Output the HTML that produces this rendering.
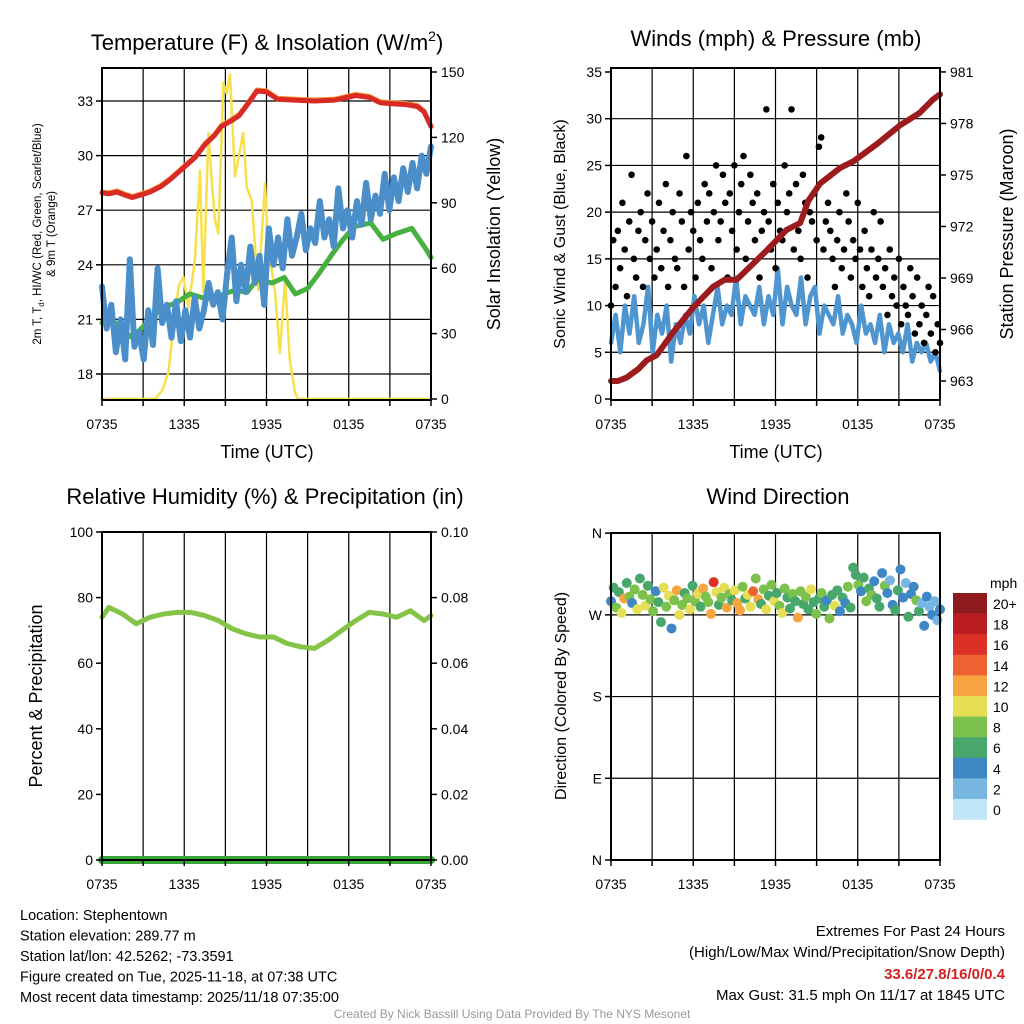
<!DOCTYPE html>
<html><head><meta charset="utf-8"><style>
html,body{margin:0;padding:0;background:#fff;}
svg{display:block;font-family:"Liberation Sans",Arial,sans-serif;}
</style></head><body>
<svg id="c" width="1024" height="1024" viewBox="0 0 1024 1024"></svg>
<script>
// ---------- data ----------
const xTicks = ["0735","1335","1935","0135","0735"];
const p1LeftTicks = [18,21,24,27,30,33];
const p1RightTicks = [0,30,60,90,120,150];
const redTempT = [0,0.5,1.1,1.6,2.2,2.9,3.5,4.3,5.0,6.05,6.8,7.5,8.2,8.7,9.4,10.0,10.7,11.3,12.0,12.8,14.0,15.5,17.0,18.5,19.5,20.3,21.2,22.2,23.0,23.5,24];
const redTempV = [27.95,27.9,28.0,27.85,27.7,27.85,28.0,28.3,28.7,29.4,29.9,30.6,31.1,31.6,31.9,32.2,32.9,33.55,33.5,33.1,33.05,33.0,33.05,33.3,33.2,32.9,32.85,32.8,32.7,32.4,31.6];
const greenT = [0,0.5,1.3,2.2,3.0,3.8,4.6,5.4,6.4,7.3,8.2,8.9,9.7,10.6,11.3,12.4,13.3,14.1,15.0,15.8,16.8,17.6,18.4,19.6,20.5,21.4,22.6,23.6,24];
const greenV = [20.8,21.2,20.5,20.0,20.6,21.3,21.7,21.9,22.4,22.2,22.1,22.4,22.6,22.5,23.2,23.0,23.3,22.4,22.7,23.5,24.6,25.4,26.1,26.3,25.4,25.7,26.0,24.9,24.4];
const blueTempV = [22.8,20.5,21.8,19.2,21.0,18.8,24.3,19.5,20.3,18.8,21.5,19.6,23.8,20.8,21.8,20.0,22.0,19.8,21.5,20.0,22.2,20.5,21.5,23.0,21.8,22.5,21.0,23.5,25.5,22.0,24.0,22.5,25.0,23.0,24.5,21.8,26.0,24.0,25.5,23.8,26.5,24.5,25.5,26.8,24.8,26.0,25.2,27.5,25.5,26.5,25.0,28.2,26.0,27.0,25.5,27.5,26.2,28.5,26.5,27.8,26.8,29.0,27.0,28.8,27.5,29.3,28.0,29.6,28.2,30.0,29.0,30.5];
const solarT = [0,3.87,4.4,4.84,5.33,5.6,5.93,6.3,6.78,7.15,7.39,7.76,8.0,8.24,8.49,8.85,9.1,9.34,9.7,10.3,10.56,10.92,11.4,11.89,12.13,12.62,12.98,13.35,13.7,14.08,14.3,24];
const solarV = [0,0,4,12,39,52,56,42,64,105,49,122,100,82,76,145,140,149,102,122,97,91,50,99,70,49,21,55,18,3,0,0];
const p2LeftTicks = [0,5,10,15,20,25,30,35];
const p2RightTicks = [963,966,969,972,975,978,981];
const pressT = [0,0.5,1.14,2.0,2.6,3.33,4.5,6.0,7.46,8.3,9.17,10.2,11.36,12.8,13.8,14.4,15.25,16.7,17.7,19.4,21.1,22.5,23.5,24];
const pressV = [963.0,963.0,963.2,963.7,964.2,964.5,965.8,967.3,968.5,968.9,968.9,969.7,970.6,971.8,972.2,973.5,974.5,975.4,975.8,976.8,977.9,978.6,979.4,979.7];
const windV = [6,9,5,10,7,11,6,8,12,5,9,7,10,4,8,6,9,7,11,8,10,6,9,12,8,10,9,13,8,11,10,9,12,8,11,9,14,8,12,10,9,13,8,11,12,7,10,9,8,11,7,9,8,6,10,7,8,6,9,5,8,6,7,5,8,4,6,5,6,4,5,3];
const gustV = [10,17,12,18,14,21,16,11,19,24,15,13,18,20,12,17,22,15,19,13,16,21,14,18,23,12,17,20,15,14,22,19,12,26,16,20,18,13,21,17,15,23,19,22,14,20,25,17,19,24,21,13,22,18,25,16,20,23,26,15,19,24,21,17,22,13,18,20,31,19,16,23,14,21,18,17,25,20,22,31,16,23,18,15,24,21,13,20,19,22,17,27,28,16,19,21,18,15,12,17,20,14,16,22,19,13,17,15,21,16,12,18,14,11,16,20,13,15,19,12,14,9,16,11,13,10,15,8,12,10,9,14,11,7,13,8,10,6,9,12,7,11,5,8,6];
const p3LeftTicks = [0,20,40,60,80,100];
const p3RightTicks = ["0.00","0.02","0.04","0.06","0.08","0.10"];
const rhT = [0,0.5,1.5,2.5,3.5,4.5,5.5,6.5,7.5,8.5,9.5,10.5,11.5,12.5,13.5,14.5,15.5,16.5,17.5,18.5,19.5,20.5,21.5,22.5,23.5,24];
const rhV = [74,77,75,72,74,75,75.5,75.5,74.5,73,70.5,69,68,68,66,65,64.5,67,70,73,75.5,75,74,76,73,74.5];
const dirLabels = ["N","W","S","E","N"];
const dirTickDeg = [360,270,180,90,0];
const dirV = [285,300,278,295,272,288,305,290,283,298,276,310,292,280,302,287,274,296,284,262,300,279,291,255,286,297,270,281,294,288,276,302,285,293,279,299,290,284,271,306,295,281,289,300,278,293,286,297,283,275,301,288,292,279,296,310,287,282,298,276,291,303,285,294,280,272,299,289,277,293,285,267,296,282,290,276,298,284,271,288,294,279,286,266,292,280,297,274,289,283,301,278,322,314,303,296,311,285,299,292,307,288,279,316,302,294,308,281,275,297,320,289,305,268,293,301,286,274,283,258,290,279,270,285,264,276];
const spdV = [4,6,8,7,10,12,6,8,5,9,11,7,8,10,6,9,8,4,6,7,10,8,11,5,9,12,10,8,6,9,11,7,8,10,6,12,9,8,13,16,10,6,8,11,12,9,7,10,13,12,8,6,10,11,14,9,12,6,8,10,7,9,11,6,8,10,9,6,7,8,6,12,9,7,8,6,10,7,8,6,9,7,5,8,6,10,7,4,6,5,8,6,7,6,8,5,7,9,6,8,4,7,6,4,8,5,3,4,6,7,4,5,3,6,4,4,8,6,3,4,5,2,4,3,2,4];
const cbLabels = ["20+","18","16","14","12","10","8","6","4","2","0"];
const cbColors = ["#8e1a1d","#b91c22","#dc3027","#ee6231","#f6a540","#e6df55","#7cc14c","#48a76b","#3f86c4","#78b6e2","#bfe5f7"];

// ---------- helpers ----------
const NS="http://www.w3.org/2000/svg";
const svg=document.getElementById('c');
function mk(tag,attrs,parent){const e=document.createElementNS(NS,tag);for(const k in attrs)e.setAttribute(k,attrs[k]);(parent||svg).appendChild(e);return e;}
function txt(x,y,s,size,anchor,parent,extra){const e=mk('text',Object.assign({x:x,y:y,'font-size':size,'text-anchor':anchor||'middle',fill:'#000'},extra||{}),parent);e.textContent=s;return e;}
function colorFor(s){const i=Math.min(10,Math.max(0,Math.floor(s/2)));return cbColors[10-i];}

function panel(name,x0,y0,w,h){
  const g=mk('g',{});
  
  
  return {g,x0,y0,w,h,xs:t=>x0+t*w/24};
}
function frame(P,hLines){
  for(let i=1;i<8;i++){const x=P.xs(i*3);const l=mk('line',{x1:x,y1:P.y0,x2:x,y2:P.y0+P.h,stroke:'#000','stroke-width':1.2},P.g);}
  hLines.forEach(y=>{const l=mk('line',{x1:P.x0,y1:y,x2:P.x0+P.w,y2:y,stroke:'#000','stroke-width':1.2},P.g);});
}
function border(P){
  const r=mk('rect',{x:P.x0,y:P.y0,width:P.w,height:P.h,fill:'none',stroke:'#000','stroke-width':2},P.g);
  
  for(let i=0;i<=8;i++){const x=P.xs(i*3);const l=mk('line',{x1:x,y1:P.y0+P.h,x2:x,y2:P.y0+P.h+6,stroke:'#000','stroke-width':1.5},P.g);}
  xTicks.forEach((s,i)=>{const t=txt(P.xs(i*6),P.y0+P.h+29,s,14,'middle',P.g);});
}
function path(P,pts,color,width,name){
  const d=pts.map((p,i)=>(i?'L':'M')+p[0].toFixed(1)+' '+p[1].toFixed(1)).join('');
  const e=mk('path',{d:d,fill:'none',stroke:color,'stroke-width':width,'stroke-linejoin':'round','stroke-linecap':'round'},P.g);
  
  return e;
}
function leftTicks(P,vals,yf,labels){
  vals.forEach((v,i)=>{const y=yf(v);
    const l=mk('line',{x1:P.x0-6,y1:y,x2:P.x0,y2:y,stroke:'#000','stroke-width':1.5},P.g);
    const t=txt(P.x0-9,y+5,labels?labels[i]:String(v),14,'end',P.g);});
}
function rightTicks(P,vals,yf,labels){
  vals.forEach((v,i)=>{const y=yf(v);const x=P.x0+P.w;
    const l=mk('line',{x1:x,y1:y,x2:x+6,y2:y,stroke:'#000','stroke-width':1.5},P.g);
    const t=txt(x+10,y+5,labels?labels[i]:String(v),14,'start',P.g);});
}

// ---------- Panel 1 ----------
const P1=panel('temperature-panel',102,68,329,332);
const y1L=v=>101+(33-v)*54.6/3, y1R=w=>399-w*2.18;
frame(P1,p1LeftTicks.map(y1L));
path(P1,solarT.map((t,i)=>[P1.xs(t),y1R(solarV[i])]),'#f7e04c',2.5,'solar-insolation-line');
path(P1,greenT.map((t,i)=>[P1.xs(t),y1L(greenV[i])]),'#46b040',5,'dewpoint-line');
path(P1,blueTempV.map((v,i)=>[P1.xs(i*24/(blueTempV.length-1)),y1L(v)]),'#4a8fc9',6,'wind-chill-line');
path(P1,redTempT.map((t,i)=>[P1.xs(t),y1L(redTempV[i])-1.5]),'#f39a3a',4,'9m-temperature-line');
path(P1,redTempT.map((t,i)=>[P1.xs(t),y1L(redTempV[i])]),'#d92a25',5,'2m-temperature-line');
border(P1);
leftTicks(P1,p1LeftTicks,y1L);
rightTicks(P1,p1RightTicks,y1R);
let e;
e=mk('text',{x:267,y:50,'font-size':22,'text-anchor':'middle'},P1.g);e.innerHTML='Temperature (F) &amp; Insolation (W/m<tspan font-size="14" dy="-9">2</tspan><tspan dy="9">)</tspan>';

e=txt(267,458,'Time (UTC)',18,'middle',P1.g);
e=mk('text',{x:0,y:0,'font-size':11.5,'text-anchor':'middle',transform:'translate(41,234) rotate(-90)'},P1.g);e.innerHTML='2m T, T<tspan font-size="8" dy="3">d</tspan><tspan dy="-3">, HI/WC (Red, Green, Scarlet/Blue)</tspan>';

e=txt(0,0,'& 9m T (Orange)',11.5,'middle',P1.g,{transform:'translate(55,234) rotate(-90)'});
e=txt(0,0,'Solar Insolation (Yellow)',18,'middle',P1.g,{transform:'translate(500,234) rotate(-90)'});

// ---------- Panel 2 ----------
const P2=panel('winds-pressure-panel',611,68,329,332);
const y2L=v=>399-v*9.343, y2R=p=>381-(p-963)*17.17;
frame(P2,[5,10,15,20,25,30].map(y2L));
path(P2,windV.map((v,i)=>[P2.xs(i*24/(windV.length-1)),y2L(v)]),'#4f95d0',4.5,'sonic-wind-line');
gustV.forEach((v,i)=>{const c=mk('circle',{cx:P2.xs(i*24/(gustV.length-1)),cy:y2L(v),r:3.3,fill:'#000'},P2.g);
  });
path(P2,pressT.map((t,i)=>[P2.xs(t),y2R(pressV[i])]),'#9c1b1c',6,'station-pressure-line');
border(P2);
leftTicks(P2,p2LeftTicks,y2L);
rightTicks(P2,p2RightTicks,y2R);
e=txt(776,46,'Winds (mph) & Pressure (mb)',22,'middle',P2.g);
e=txt(776,458,'Time (UTC)',18,'middle',P2.g);
e=txt(0,0,'Sonic Wind & Gust (Blue, Black)',16,'middle',P2.g,{transform:'translate(565,234) rotate(-90)'});
e=txt(0,0,'Station Pressure (Maroon)',18,'middle',P2.g,{transform:'translate(1013,234) rotate(-90)'});

// ---------- Panel 3 ----------
const P3=panel('humidity-panel',102,532,329,328);
const y3=v=>860-v*3.28;
frame(P3,[]);
path(P3,rhT.map((t,i)=>[P3.xs(t),y3(rhV[i])]),'#84c447',5,'relative-humidity-line');
path(P3,[[P3.xs(0),y3(0)],[P3.xs(24),y3(0)]],'#3aa33a',8,'precipitation-line');
border(P3);
leftTicks(P3,p3LeftTicks,y3);
rightTicks(P3,p3LeftTicks,y3,p3RightTicks);
e=txt(265,504,'Relative Humidity (%) & Precipitation (in)',22,'middle',P3.g);
e=txt(0,0,'Percent & Precipitation',18,'middle',P3.g,{transform:'translate(42,696) rotate(-90)'});

// ---------- Panel 4 ----------
const P4=panel('wind-direction-panel',611,533,329,327);
const y4=d=>860-d*0.908;
frame(P4,[270,180,90].map(y4));
dirV.forEach((d,i)=>{const c=mk('circle',{cx:P4.xs(i*24/(dirV.length-1)),cy:y4(d),r:5,fill:colorFor(spdV[i])},P4.g);
  });
border(P4);
leftTicks(P4,dirTickDeg,y4,dirLabels);
e=txt(778,504,'Wind Direction',22,'middle',P4.g);
e=txt(0,0,'Direction (Colored By Speed)',16,'middle',P4.g,{transform:'translate(566,696) rotate(-90)'});
// colorbar
const cb=mk('g',{});
e=txt(990,588,'mph',14,'start',cb);
cbColors.forEach((c,i)=>{const r=mk('rect',{x:953,y:593+i*20.6,width:34,height:20.8,fill:c},cb);
  const t=txt(993,609+i*20.6,cbLabels[i],14,'start',cb);});

// ---------- Footer text ----------
const ft=mk('g',{});
["Location: Stephentown","Station elevation: 289.77 m","Station lat/lon: 42.5262; -73.3591","Figure created on Tue, 2025-11-18, at 07:38 UTC","Most recent data timestamp: 2025/11/18 07:35:00"].forEach((s,i)=>{
  const t=txt(20,920+i*20.5,s,14.5,'start',ft);});
const ex=mk('g',{});
e=txt(1005,936,'Extremes For Past 24 Hours',15,'end',ex);
e=txt(1005,957,'(High/Low/Max Wind/Precipitation/Snow Depth)',15,'end',ex);
e=txt(1005,979,'33.6/27.8/16/0/0.4',15,'end',ex,{fill:'#d42020','font-weight':'bold'});
e=txt(1005,1000,'Max Gust: 31.5 mph On 11/17 at 1845 UTC',15,'end',ex);
e=txt(512,1018,'Created By Nick Bassill Using Data Provided By The NYS Mesonet',12,'middle',svg,{fill:'#999'});
</script>
</body></html>
